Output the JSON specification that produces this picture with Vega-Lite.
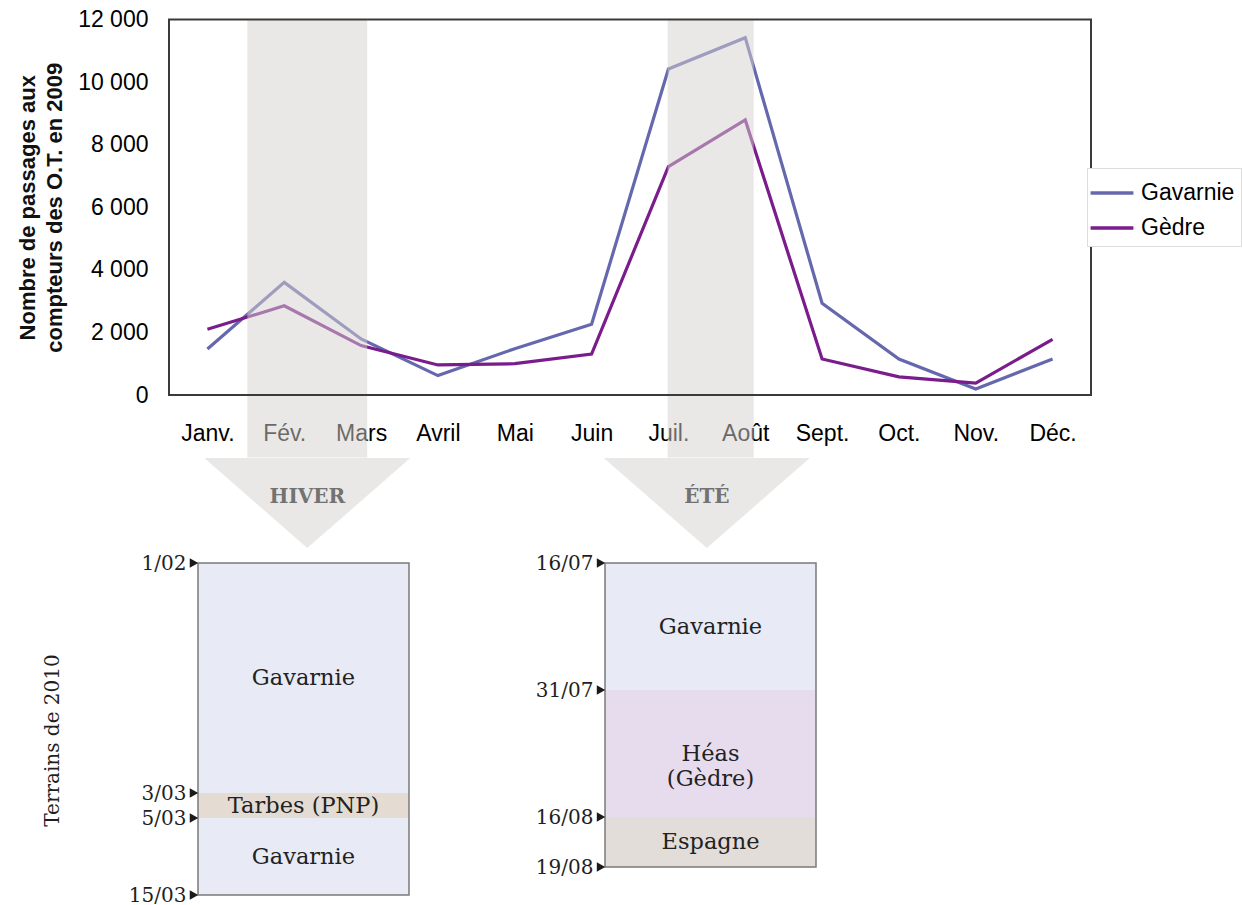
{
  "$schema": "https://vega.github.io/schema/vega-lite/v6.json",
  "width": 1242,
  "height": 905,
  "autosize": {"type": "none"},
  "padding": 0,
  "background": "white",
  "config": {"view": {"stroke": null}},
  "datasets": {
    "passages": [
      {"mois": 1, "commune": "Gavarnie", "passages": 1470},
      {"mois": 2, "commune": "Gavarnie", "passages": 3600},
      {"mois": 3, "commune": "Gavarnie", "passages": 1790},
      {"mois": 4, "commune": "Gavarnie", "passages": 620},
      {"mois": 5, "commune": "Gavarnie", "passages": 1480},
      {"mois": 6, "commune": "Gavarnie", "passages": 2260},
      {"mois": 7, "commune": "Gavarnie", "passages": 10420},
      {"mois": 8, "commune": "Gavarnie", "passages": 11420},
      {"mois": 9, "commune": "Gavarnie", "passages": 2930},
      {"mois": 10, "commune": "Gavarnie", "passages": 1150},
      {"mois": 11, "commune": "Gavarnie", "passages": 190},
      {"mois": 12, "commune": "Gavarnie", "passages": 1150},
      {"mois": 1, "commune": "Gèdre", "passages": 2100},
      {"mois": 2, "commune": "Gèdre", "passages": 2850},
      {"mois": 3, "commune": "Gèdre", "passages": 1580},
      {"mois": 4, "commune": "Gèdre", "passages": 960},
      {"mois": 5, "commune": "Gèdre", "passages": 1000},
      {"mois": 6, "commune": "Gèdre", "passages": 1310},
      {"mois": 7, "commune": "Gèdre", "passages": 7300},
      {"mois": 8, "commune": "Gèdre", "passages": 8790},
      {"mois": 9, "commune": "Gèdre", "passages": 1150},
      {"mois": 10, "commune": "Gèdre", "passages": 580},
      {"mois": 11, "commune": "Gèdre", "passages": 380},
      {"mois": 12, "commune": "Gèdre", "passages": 1780}
    ],
    "saisons": [
      {"saison": "HIVER", "debut": 1.52, "fin": 3.08, "centre": 2.3},
      {"saison": "ÉTÉ", "debut": 6.99, "fin": 8.11, "centre": 7.5}
    ],
    "terrains": [
      {"periode": "Hiver", "lieu": "Gavarnie", "debut": "2010-02-01T00:00:00Z", "fin": "2010-03-03T00:00:00Z", "milieu": "2010-02-16T00:00:00Z"},
      {"periode": "Hiver", "lieu": "Tarbes (PNP)", "debut": "2010-03-03T00:00:00Z", "fin": "2010-03-05T00:00:00Z", "milieu": "2010-03-04T00:00:00Z"},
      {"periode": "Hiver", "lieu": "Gavarnie", "debut": "2010-03-05T00:00:00Z", "fin": "2010-03-15T00:00:00Z", "milieu": "2010-03-10T00:00:00Z"},
      {"periode": "Été", "lieu": "Gavarnie", "debut": "2010-07-16T00:00:00Z", "fin": "2010-07-31T00:00:00Z", "milieu": "2010-07-23T12:00:00Z"},
      {"periode": "Été", "lieu": "Héas (Gèdre)", "debut": "2010-07-31T00:00:00Z", "fin": "2010-08-16T00:00:00Z", "milieu": "2010-08-08T00:00:00Z"},
      {"periode": "Été", "lieu": "Espagne", "debut": "2010-08-16T00:00:00Z", "fin": "2010-08-19T00:00:00Z", "milieu": "2010-08-17T12:00:00Z"}
    ],
    "periodes": [
      {"periode": "Hiver", "debut": "2010-02-01T00:00:00Z", "fin": "2010-03-15T00:00:00Z"},
      {"periode": "Été", "debut": "2010-07-16T00:00:00Z", "fin": "2010-08-19T00:00:00Z"}
    ],
    "reperes": [
      {"periode": "Hiver", "date": "2010-02-01T00:00:00Z"},
      {"periode": "Hiver", "date": "2010-03-03T00:00:00Z"},
      {"periode": "Hiver", "date": "2010-03-05T00:00:00Z"},
      {"periode": "Hiver", "date": "2010-03-15T00:00:00Z"},
      {"periode": "Été", "date": "2010-07-16T00:00:00Z"},
      {"periode": "Été", "date": "2010-07-31T00:00:00Z"},
      {"periode": "Été", "date": "2010-08-16T00:00:00Z"},
      {"periode": "Été", "date": "2010-08-19T00:00:00Z"}
    ]
  },
  "layer": [
    {
      "layer": [
        {
          "data": {"name": "passages"},
          "mark": {"type": "line", "strokeWidth": 3.2},
          "encoding": {
            "x": {
              "field": "mois", "type": "quantitative",
              "scale": {"domain": [0.5, 12.5], "range": [169, 1091], "nice": false, "zero": false},
              "axis": {
                "orient": "bottom", "offset": -510, "values": [1,2,3,4,5,6,7,8,9,10,11,12],
                "labelExpr": "['Janv.','Fév.','Mars','Avril','Mai','Juin','Juil.','Août','Sept.','Oct.','Nov.','Déc.'][datum.value - 1]",
                "title": null, "domain": false, "ticks": false, "tickSize": 0, "grid": false,
                "labelPadding": 27, "labelFont": "Liberation Sans", "labelFontSize": 23, "labelColor": "#000000",
                "labelFlush": false, "labelOverlap": false, "labelBound": false
              }
            },
            "y": {
              "field": "passages", "type": "quantitative",
              "scale": {"domain": [0, 12000], "range": [395, 19.5], "nice": false, "zero": false},
              "axis": {
                "orient": "left", "offset": -169, "values": [0, 2000, 4000, 6000, 8000, 10000, 12000],
                "labelExpr": "replace(format(datum.value, ','), ',', ' ')",
                "domain": false, "ticks": false, "tickSize": 0, "grid": false,
                "labelPadding": 21, "labelFont": "Liberation Sans", "labelFontSize": 23, "labelColor": "#000000",
                "labelFlush": false, "labelOverlap": false, "labelBound": false,
                "title": ["Nombre de passages aux", "compteurs des O.T. en 2009"],
                "titleFont": "Liberation Sans", "titleFontSize": 22, "titleFontWeight": "bold", "titleColor": "#111111",
                "titlePadding": 11, "titleLineHeight": 27
              }
            },
            "color": {
              "field": "commune", "type": "nominal",
              "scale": {"domain": ["Gavarnie", "Gèdre"], "range": ["#6668ae", "#7a1c8c"]},
              "legend": {
                "title": null, "orient": "none", "legendX": 1087, "legendY": 168,
                "symbolType": "M-1.26,0L1.26,0", "symbolSize": 1156, "symbolStrokeWidth": 3.5,
                "labelFont": "Liberation Sans", "labelFontSize": 23, "labelColor": "#000000", "labelOffset": 10,
                "padding": 6, "rowPadding": 4, "strokeColor": "#dcdcdc", "fillColor": "white", "symbolOpacity": 1
              }
            }
          }
        },
        {
          "data": {"name": "saisons"},
          "mark": {"type": "rect", "color": "#d6d1ce", "opacity": 0.5},
          "encoding": {
            "x": {"field": "debut", "type": "quantitative"},
            "x2": {"field": "fin"},
            "y": {"datum": 12000, "type": "quantitative"},
            "y2": {"datum": -2000}
          }
        },
        {
          "data": {"name": "saisons"},
          "mark": {"type": "point", "shape": "M-1,-0.437L1,-0.437L0,0.437Z", "size": 42436, "filled": true, "color": "#d6d1ce", "opacity": 0.5, "strokeWidth": 0},
          "encoding": {
            "x": {"field": "centre", "type": "quantitative"},
            "y": {"datum": -3452, "type": "quantitative"}
          }
        },
        {
          "data": {"name": "saisons"},
          "mark": {"type": "text", "font": "DejaVu Serif", "fontSize": 20, "fontWeight": "bold", "color": "#727272", "baseline": "middle", "align": "center"},
          "encoding": {
            "x": {"field": "centre", "type": "quantitative"},
            "y": {"datum": -3260, "type": "quantitative"},
            "text": {"field": "saison"}
          }
        },
        {
          "data": {"values": [{}]},
          "mark": {"type": "rect", "filled": false, "stroke": "#3a3a3a", "strokeWidth": 2},
          "encoding": {
            "x": {"datum": 0.5, "type": "quantitative"},
            "x2": {"datum": 12.5},
            "y": {"datum": 0, "type": "quantitative"},
            "y2": {"datum": 12000}
          }
        }
      ]
    },
    {
      "layer": [
        {
          "data": {"name": "terrains"},
          "transform": [{"filter": "datum.periode == 'Hiver'"}],
          "mark": {"type": "rect"},
          "encoding": {
            "x": {"field": "periode", "type": "nominal", "scale": {"domain": ["Hiver", "Été"], "range": [198, 816], "paddingInner": 0.4816, "paddingOuter": 0}, "axis": null},
            "y": {
              "field": "debut", "type": "temporal",
              "scale": {"type": "utc", "domainRaw": {"expr": "[1264982400000, 1267574400000, 1267747200000, 1268611200000]"}, "range": [563, 793, 818, 895], "nice": false},
              "axis": {
                "orient": "left", "offset": -198,
                "values": [1264982400000, 1267574400000, 1267747200000, 1268611200000],
                "format": "%-d/%m",
                "domain": false, "ticks": false, "tickSize": 0, "grid": false,
                "labelPadding": 12, "labelFont": "DejaVu Serif", "labelFontSize": 20, "labelColor": "#1f1f1f",
                "labelFlush": false, "labelOverlap": false, "labelBound": false,
                "title": "Terrains de 2010", "titleFont": "DejaVu Serif", "titleFontSize": 20, "titleFontWeight": "normal", "titleColor": "#1f1f1f",
                "titleX": -146, "titleY": 740, "titleAngle": 270, "titleAlign": "center", "titleBaseline": "middle"
              }
            },
            "y2": {"field": "fin"},
            "color": {"field": "lieu", "type": "nominal", "scale": {"domain": ["Gavarnie", "Tarbes (PNP)", "Héas (Gèdre)", "Espagne"], "range": ["#e8eaf5", "#e4dbd2", "#e6dcee", "#e2ddd8"]}, "legend": null}
          }
        },
        {
          "data": {"name": "periodes"},
          "transform": [{"filter": "datum.periode == 'Hiver'"}],
          "mark": {"type": "rect", "filled": false, "stroke": "#7a7a7a", "strokeWidth": 1.5},
          "encoding": {
            "x": {"field": "periode", "type": "nominal", "axis": null},
            "y": {"field": "debut", "type": "temporal"},
            "y2": {"field": "fin"}
          }
        },
        {
          "data": {"name": "terrains"},
          "transform": [{"filter": "datum.periode == 'Hiver'"}],
          "mark": {"type": "text", "font": "DejaVu Serif", "fontSize": 22.5, "color": "#222222", "align": "center", "baseline": "middle"},
          "encoding": {
            "x": {"field": "periode", "type": "nominal", "axis": null},
            "y": {"field": "milieu", "type": "temporal"},
            "text": {"field": "lieu"}
          }
        },
        {
          "data": {"name": "reperes"},
          "transform": [{"filter": "datum.periode == 'Hiver'"}],
          "mark": {"type": "point", "shape": "triangle-right", "size": 95, "filled": true, "color": "#1a1a1a", "opacity": 1, "xOffset": -4},
          "encoding": {
            "x": {"field": "periode", "type": "nominal", "bandPosition": 0, "axis": null},
            "y": {"field": "date", "type": "temporal"}
          }
        }
      ]
    },
    {
      "layer": [
        {
          "data": {"name": "terrains"},
          "transform": [{"filter": "datum.periode == 'Été'"}],
          "mark": {"type": "rect"},
          "encoding": {
            "x": {"field": "periode", "type": "nominal", "scale": {"domain": ["Hiver", "Été"], "range": [198, 816], "paddingInner": 0.4816, "paddingOuter": 0}, "axis": null},
            "y": {
              "field": "debut", "type": "temporal",
              "scale": {"type": "utc", "domainRaw": {"expr": "[1279238400000, 1280534400000, 1281916800000, 1282176000000]"}, "range": [563, 690, 817, 867], "nice": false},
              "axis": {
                "orient": "left", "offset": -605,
                "values": [1279238400000, 1280534400000, 1281916800000, 1282176000000],
                "format": "%-d/%m",
                "domain": false, "ticks": false, "tickSize": 0, "grid": false,
                "labelPadding": 12, "labelFont": "DejaVu Serif", "labelFontSize": 20, "labelColor": "#1f1f1f",
                "labelFlush": false, "labelOverlap": false, "labelBound": false,
                "title": null
              }
            },
            "y2": {"field": "fin"},
            "color": {"field": "lieu", "type": "nominal", "scale": {"domain": ["Gavarnie", "Tarbes (PNP)", "Héas (Gèdre)", "Espagne"], "range": ["#e8eaf5", "#e4dbd2", "#e6dcee", "#e2ddd8"]}, "legend": null}
          }
        },
        {
          "data": {"name": "periodes"},
          "transform": [{"filter": "datum.periode == 'Été'"}],
          "mark": {"type": "rect", "filled": false, "stroke": "#7a7a7a", "strokeWidth": 1.5},
          "encoding": {
            "x": {"field": "periode", "type": "nominal", "axis": null},
            "y": {"field": "debut", "type": "temporal"},
            "y2": {"field": "fin"}
          }
        },
        {
          "data": {"name": "terrains"},
          "transform": [{"filter": "datum.periode == 'Été'"}],
          "mark": {"type": "text", "font": "DejaVu Serif", "fontSize": 22.5, "color": "#222222", "align": "center", "baseline": "middle", "lineBreak": " ", "lineHeight": 25},
          "encoding": {
            "x": {"field": "periode", "type": "nominal", "axis": null},
            "y": {"field": "milieu", "type": "temporal"},
            "text": {"field": "lieu"}
          }
        },
        {
          "data": {"name": "reperes"},
          "transform": [{"filter": "datum.periode == 'Été'"}],
          "mark": {"type": "point", "shape": "triangle-right", "size": 95, "filled": true, "color": "#1a1a1a", "opacity": 1, "xOffset": -4},
          "encoding": {
            "x": {"field": "periode", "type": "nominal", "bandPosition": 0, "axis": null},
            "y": {"field": "date", "type": "temporal"}
          }
        }
      ]
    }
  ],
  "resolve": {"scale": {"x": "independent", "y": "independent", "color": "independent"}}
}
